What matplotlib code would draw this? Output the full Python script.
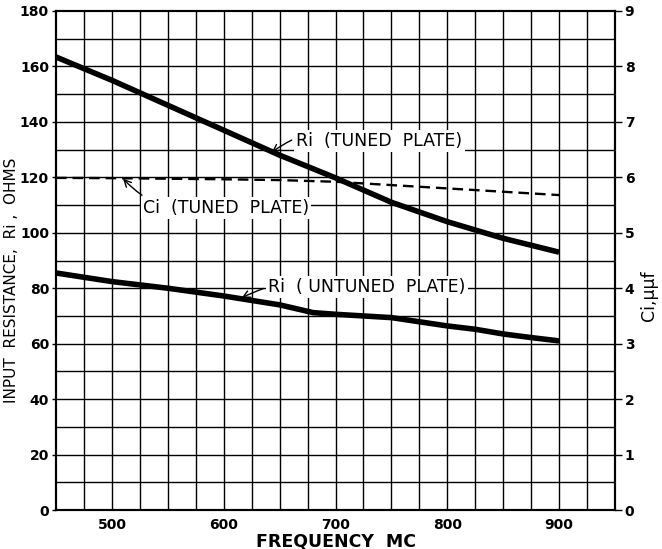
import numpy as np
import matplotlib.pyplot as plt

# data
freq_tuned = [450, 500, 550, 600, 650, 700, 750, 800, 850, 900]
ri_tuned = [163.4, 155.0, 146.0, 137.0, 128.0, 119.8, 111.0, 104.0, 98.0, 93.0]

freq_ci = [450, 500, 550, 600, 650, 700, 750, 800, 850, 900]
ci_tuned = [5.99, 5.985, 5.975, 5.965, 5.95, 5.92, 5.86, 5.80, 5.74, 5.68]

freq_untuned = [450, 500, 550, 600, 650, 680, 700, 750, 800, 825, 850, 875, 900]
ri_untuned = [85.5, 82.4, 80.0, 77.2, 74.0, 71.2, 70.6, 69.4, 66.4, 65.2, 63.5, 62.2, 61.0]

x_ticks = [500, 600, 700, 800, 900]
left_ticks = [0, 20, 40, 60, 80, 100, 120, 140, 160, 180]
right_ticks = [0, 1, 2, 3, 4, 5, 6, 7, 8, 9]

plt.rcParams['font.family'] = ['DejaVu Sans']

fig = plt.figure(figsize=(6.62, 5.49), dpi=100)
ax = fig.add_axes([0.0846, 0.071, 0.8444, 0.909])
ax2 = ax.twinx()

ax.set_xlim(450, 950)
ax.set_ylim(0, 180)
ax2.set_ylim(0, 9)

# grid: every 25 MC and every 10 ohms
for xv in np.arange(475, 950, 25):
    ax.axvline(xv, color='black', lw=1.0, zorder=1)
for yv in np.arange(10, 180, 10):
    ax.axhline(yv, color='black', lw=1.0, zorder=1)

ax.plot(freq_tuned, ri_tuned, color='black', lw=4.0, solid_capstyle='butt', zorder=4)
ax.plot(freq_untuned, ri_untuned, color='black', lw=4.0, solid_capstyle='butt', zorder=4)
ax2.plot(freq_ci, ci_tuned, color='black', lw=1.7, dashes=(4.5, 2.5), zorder=4)

box = dict(facecolor='white', edgecolor='none', pad=1.5)
lbl = dict(fontsize=12.5, va='center', ha='left', bbox=box, zorder=5)
ax.annotate('Ri  (TUNED  PLATE)', xy=(643, 129), xytext=(665, 133),
            arrowprops=dict(arrowstyle='->', color='black', lw=1.0,
                            connectionstyle='arc3,rad=0.3',
                            shrinkA=2, shrinkB=0), **lbl)
ax.annotate('Ci  (TUNED  PLATE)', xy=(510, 119.5), xytext=(528, 109),
            arrowprops=dict(arrowstyle='->', color='black', lw=1.0,
                            connectionstyle='arc3,rad=-0.3',
                            shrinkA=2, shrinkB=0), **lbl)
ax.annotate('Ri  ( UNTUNED  PLATE)', xy=(616, 76.5), xytext=(640, 80.5),
            arrowprops=dict(arrowstyle='->', color='black', lw=1.0,
                            connectionstyle='arc3,rad=0.2',
                            shrinkA=2, shrinkB=0), **lbl)

ax.set_xticks(x_ticks)
ax.set_yticks(left_ticks)
ax2.set_yticks(right_ticks)
ax.tick_params(axis='both', labelsize=10, length=3, width=1, pad=2)
ax2.tick_params(axis='y', labelsize=10, length=5, width=1, pad=2)
ax.tick_params(axis='x', length=0, pad=6)
for t in ax.get_xticklabels() + ax.get_yticklabels() + ax2.get_yticklabels():
    t.set_fontweight('bold')

for sp in ax.spines.values():
    sp.set_linewidth(1.5)
for sp in ax2.spines.values():
    sp.set_linewidth(1.5)

ax.set_xlabel('FREQUENCY  MC', fontsize=12.5, fontweight='bold')
ax.xaxis.set_label_coords(0.5, -0.045)
ax.set_ylabel('INPUT  RESISTANCE,  Ri ,  OHMS', fontsize=11)
ax.yaxis.set_label_coords(-0.066, 0.46)
ax2.set_ylabel('Ci,\u03bc\u03bcf', fontsize=12.5, rotation=90)
ax2.yaxis.set_label_coords(1.045, 0.43)

fig.savefig('out.png', dpi=100)
